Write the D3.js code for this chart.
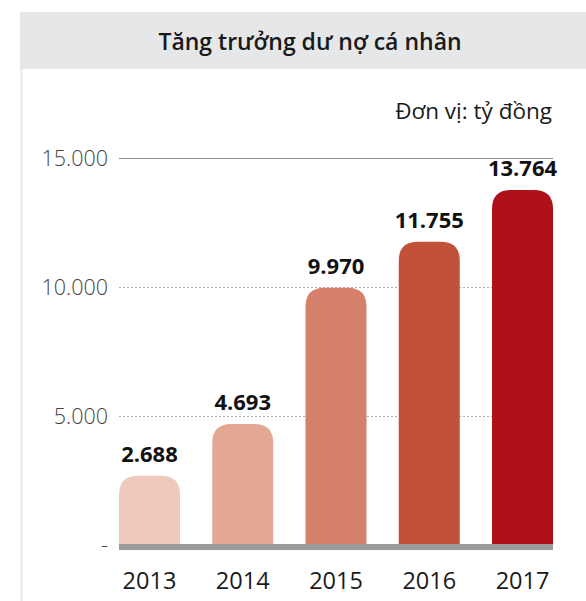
<!DOCTYPE html>
<html>
<head>
<meta charset="utf-8">
<script src="https://cdn.jsdelivr.net/npm/d3@7"></script>
<style>
  body { margin: 0; background: #fff; }
  svg { display: block; font-family: "Open Sans", sans-serif; }
</style>
</head>
<body>
<div class="chart"></div>
<script>

const years = ["2013", "2014", "2015", "2016", "2017"];
const values = [2688, 4693, 9970, 11755, 13764];
const barColors = ["#efc9bb", "#e2a893", "#d4806a", "#c2513a", "#ae1218"];
const yTicks = [0, 5000, 10000, 15000];
const title = "Tăng trưởng dư nợ cá nhân";
const unit = "Đơn vị: tỷ đồng";

const width = 586;
const height = 601;

const svg = d3.select(".chart").append("svg")
				.attr("width", width)
				.attr("height", height);

// header band
svg.append("rect")
	.attr("x", 20).attr("y", 12)
	.attr("width", width - 20).attr("height", 57)
	.attr("fill", "#e6e7e8");

svg.append("line")
	.attr("x1", 21.5).attr("x2", 21.5)
	.attr("y1", 69).attr("y2", height)
	.attr("stroke", "#e6e7e8").attr("stroke-width", 2);

svg.append("text")
	.attr("x", 310).attr("y", 50)
	.attr("text-anchor", "middle")
	.attr("font-size", 23)
	.attr("font-weight", 600)
	.attr("fill", "#1a1a1a")
	.text(title);

svg.append("text")
	.attr("x", 552).attr("y", 119)
	.attr("text-anchor", "end")
	.attr("font-size", 22.5)
	.attr("fill", "#1a1a1a")
	.text(unit);

const x = d3.scaleBand()
			.domain(years)
			.range([119, 553])
			.paddingInner(0.346)
			.paddingOuter(0);

const y = d3.scaleLinear()
			.domain([0, 15000])
			.range([545, 158]);

// grid lines
svg.selectAll(".grid")
	.data(yTicks.filter((d) => d > 0)).enter()
	.append("line")
		.attr("class", "grid")
		.attr("x1", 119).attr("x2", 553)
		.attr("y1", (d) => Math.round(y(d)) + 0.5)
		.attr("y2", (d) => Math.round(y(d)) + 0.5)
		.attr("stroke", (d) => d === 15000 ? "#8a8a8a" : "#b0b0b0")
		.attr("stroke-width", (d) => d === 15000 ? 1.2 : 1)
		.attr("stroke-dasharray", (d) => d === 15000 ? null : "2,2");

// y tick labels
svg.selectAll(".ytick")
	.data(yTicks).enter()
	.append("text")
		.attr("class", "ytick")
		.attr("x", 108)
		.attr("y", (d) => y(d))
		.attr("dy", "0.35em")
		.attr("text-anchor", "end")
		.attr("font-size", 21.5)
		.attr("font-weight", 300)
		.attr("fill", "#444")
		.text((d) => d === 0 ? "-" : d3.format(",")(d).replace(/,/g, "."));

// rounded-top bars
const r = 19;
function barPath(d, i) {
	const x0 = x(years[i]);
	const x1 = x0 + x.bandwidth();
	const yt = y(d);
	const yb = y(0);
	return `M${x0},${yb} L${x0},${yt + r} Q${x0},${yt} ${x0 + r},${yt}`
		+ ` L${x1 - r},${yt} Q${x1},${yt} ${x1},${yt + r} L${x1},${yb} Z`;
}

svg.selectAll(".bar")
	.data(values).enter()
	.append("path")
		.attr("class", "bar")
		.attr("d", barPath)
		.attr("fill", (d, i) => barColors[i]);

// baseline
svg.append("rect")
	.attr("x", 119).attr("y", y(0) - 1)
	.attr("width", 434).attr("height", 6)
	.attr("fill", "#9b9b9e");

// value labels
svg.selectAll(".value")
	.data(values).enter()
	.append("text")
		.attr("class", "value")
		.attr("x", (d, i) => x(years[i]) + x.bandwidth() / 2)
		.attr("y", (d) => y(d) - 14)
		.attr("text-anchor", "middle")
		.attr("font-size", 22)
		.attr("font-weight", 700)
		.attr("fill", "#111")
		.text((d) => d3.format(",")(d).replace(/,/g, "."));

// year labels
svg.selectAll(".year")
	.data(years).enter()
	.append("text")
		.attr("class", "year")
		.attr("x", (d) => x(d) + x.bandwidth() / 2)
		.attr("y", 589)
		.attr("text-anchor", "middle")
		.attr("font-size", 23.5)
		.attr("fill", "#1a1a1a")
		.text((d) => d);

</script>
</body>
</html>
